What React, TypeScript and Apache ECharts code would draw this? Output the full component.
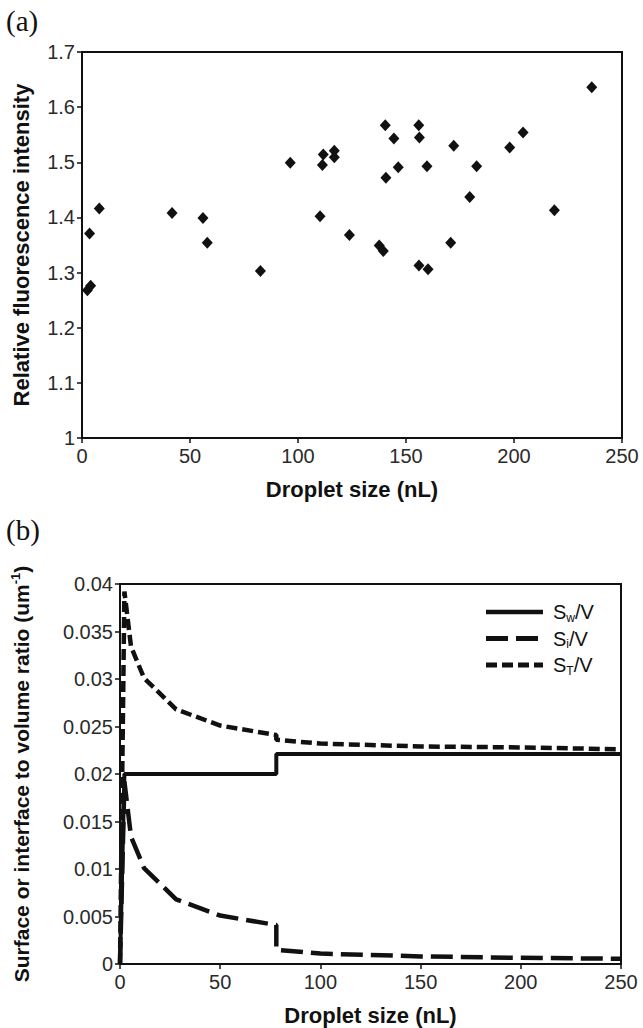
import React, { useEffect, useRef } from 'react';
import * as echarts from 'echarts';

// (a) scatter: droplet size (nL) vs relative fluorescence intensity
const dropletSizeA = [2.5, 4, 3.5, 8, 41.7, 56, 58, 82.6, 96.4, 110.2, 111.7, 111.3, 116.8, 116.8, 123.8, 137.6, 139.5, 140.4, 144.4, 140.7, 146.4, 155.9, 156.2, 159.7, 156, 160.2, 170.7, 172.1, 179.5, 182.7, 198, 204.2, 218.7, 236];
const intensityA = [1.268, 1.276, 1.371, 1.416, 1.408, 1.399, 1.354, 1.303, 1.499, 1.402, 1.514, 1.495, 1.521, 1.509, 1.368, 1.349, 1.339, 1.567, 1.543, 1.472, 1.491, 1.567, 1.545, 1.493, 1.313, 1.306, 1.354, 1.530, 1.437, 1.493, 1.527, 1.554, 1.413, 1.636];

// (b) lines: droplet size vs surface / interface to volume ratio
const dropletSizeB = [0, 2.2, 5.5, 12, 28, 50, 78, 78, 100, 150, 200, 250];
const swV = [0, 0.02, 0.02, 0.02, 0.02, 0.02, 0.02, 0.0221, 0.0221, 0.0221, 0.0221, 0.0221];
const siV = [0, 0.0192, 0.0134, 0.0101, 0.0068, 0.0051, 0.0041, 0.0015, 0.0011, 0.0008, 0.00065, 0.00055];
const stV = [0, 0.0392, 0.0334, 0.0301, 0.0268, 0.0251, 0.0241, 0.0236, 0.0232, 0.0229, 0.0228, 0.0226];

const seriesNames = ['Sw/V', 'Si/V', 'ST/V'];
const legendRich: Record<string, string> = {
  'Sw/V': '{n|S}{s|w}{n|/V}',
  'Si/V': '{n|S}{s|i}{n|/V}',
  'ST/V': '{n|S}{s|T}{n|/V}',
};

const FONT = '"Liberation Sans", Arial, sans-serif';
const INK = '#111';
const SOLID: any = 'solid';
const LONG_DASH = [22, 8];
const SHORT_DASH = [11, 5];
const seriesDash: Record<string, any> = { 'Sw/V': SOLID, 'Si/V': LONG_DASH, 'ST/V': SHORT_DASH };
const seriesWidth: Record<string, number> = { 'Sw/V': 4, 'Si/V': 4.5, 'ST/V': 4.5 };

function zip(xs: number[], ys: number[]) {
  return xs.map((x, i) => [x, ys[i]]);
}

export default function App() {
  const ref = useRef<HTMLDivElement>(null);
  useEffect(() => {
    if (!ref.current) return;
    const chart = echarts.init(ref.current, undefined, { renderer: 'svg' });

    const axisCommon = {
      axisLine: { show: true, lineStyle: { color: INK, width: 2 } },
      axisTick: { show: true, length: 5, inside: false, lineStyle: { color: INK, width: 1.5 } },
      splitLine: { show: false },
      nameTextStyle: { fontFamily: FONT, fontWeight: 'bold', fontSize: 22, color: INK },
    };
    const labelStyle = { fontFamily: FONT, fontSize: 20, color: '#2a2a2a' };

    // hand-made legend (line samples with dash patterns + subscript labels)
    const legendTop = 612;
    const legendPitch = 26.5;
    const legendGraphics: any[] = [];
    seriesNames.forEach((name, i) => {
      const cy = legendTop + i * legendPitch;
      const dash = seriesDash[name];
      legendGraphics.push({
        type: 'line',
        shape: { x1: 486, y1: cy, x2: 543, y2: cy },
        style: {
          stroke: INK,
          lineWidth: seriesWidth[name] + 0.5,
          lineDash: Array.isArray(dash) ? dash : null,
        },
      });
      legendGraphics.push({
        type: 'text',
        x: 553,
        y: cy,
        style: {
          text: legendRich[name],
          verticalAlign: 'middle',
          align: 'left',
          fill: INK,
          rich: {
            n: { fontFamily: FONT, fontSize: 20, fill: INK, lineHeight: 23 },
            s: { fontFamily: FONT, fontSize: 12, fill: INK, verticalAlign: 'bottom', lineHeight: 12 },
          },
        },
      });
    });

    const option: any = {
      animation: false,
      backgroundColor: '#fff',
      graphic: [
        { type: 'text', left: 6, top: 6, style: { text: '(a)', font: '29px "Liberation Serif", serif', fill: INK } },
        { type: 'text', left: 6, top: 515, style: { text: '(b)', font: '29px "Liberation Serif", serif', fill: INK } },
        ...legendGraphics,
      ],
      grid: [
        { left: 82, top: 52, width: 540, height: 386, show: true, borderColor: INK, borderWidth: 2, backgroundColor: 'transparent' },
        { left: 120, top: 584, width: 501, height: 380, show: true, borderColor: INK, borderWidth: 2, backgroundColor: 'transparent' },
      ],
      xAxis: [
        {
          ...axisCommon, gridIndex: 0, type: 'value', min: 0, max: 250, interval: 50,
          axisLabel: { ...labelStyle, margin: 8 },
          name: 'Droplet size (nL)', nameLocation: 'middle', nameGap: 40,
        },
        {
          ...axisCommon, gridIndex: 1, type: 'value', min: 0, max: 250, interval: 50,
          axisLabel: { ...labelStyle, margin: 8 },
          name: 'Droplet size (nL)', nameLocation: 'middle', nameGap: 40,
        },
      ],
      yAxis: [
        {
          ...axisCommon, gridIndex: 0, type: 'value', min: 1, max: 1.7, interval: 0.1,
          axisLabel: { ...labelStyle, margin: 7 },
          name: 'Relative fluorescence intensity', nameLocation: 'middle', nameGap: 50,
        },
        {
          ...axisCommon, gridIndex: 1, type: 'value', min: 0, max: 0.04, interval: 0.005,
          axisLabel: { ...labelStyle, margin: 7 },
          name: '{t|Surface or interface to volume ratio (um}{sup|-1}{t|)}',
          nameLocation: 'middle', nameGap: 87,
          nameTextStyle: {
            ...axisCommon.nameTextStyle,
            rich: {
              t: { fontFamily: FONT, fontWeight: 'bold', fontSize: 21, color: INK, lineHeight: 24 },
              sup: { fontFamily: FONT, fontWeight: 'bold', fontSize: 13, color: INK, verticalAlign: 'top', lineHeight: 14 },
            },
          },
        },
      ],
      series: [
        {
          type: 'scatter', xAxisIndex: 0, yAxisIndex: 0,
          data: zip(dropletSizeA, intensityA),
          symbol: 'diamond', symbolSize: [11, 12],
          itemStyle: { color: INK, opacity: 1 },
        },
        {
          name: 'Sw/V', type: 'line', xAxisIndex: 1, yAxisIndex: 1,
          data: zip(dropletSizeB, swV), symbol: 'none', showSymbol: false,
          lineStyle: { color: INK, width: seriesWidth['Sw/V'], type: seriesDash['Sw/V'] },
        },
        {
          name: 'Si/V', type: 'line', xAxisIndex: 1, yAxisIndex: 1,
          data: zip(dropletSizeB, siV), symbol: 'none', showSymbol: false,
          lineStyle: { color: INK, width: seriesWidth['Si/V'], type: seriesDash['Si/V'] },
        },
        {
          name: 'ST/V', type: 'line', xAxisIndex: 1, yAxisIndex: 1,
          data: zip(dropletSizeB, stV), symbol: 'none', showSymbol: false,
          lineStyle: { color: INK, width: seriesWidth['ST/V'], type: seriesDash['ST/V'] },
        },
      ],
    };
    chart.setOption(option);
    return () => chart.dispose();
  }, []);
  return (
    <div
      ref={ref}
      style={{ position: 'absolute', left: 0, top: 0, width: 643, height: 1028, background: '#fff' }}
    />
  );
}
